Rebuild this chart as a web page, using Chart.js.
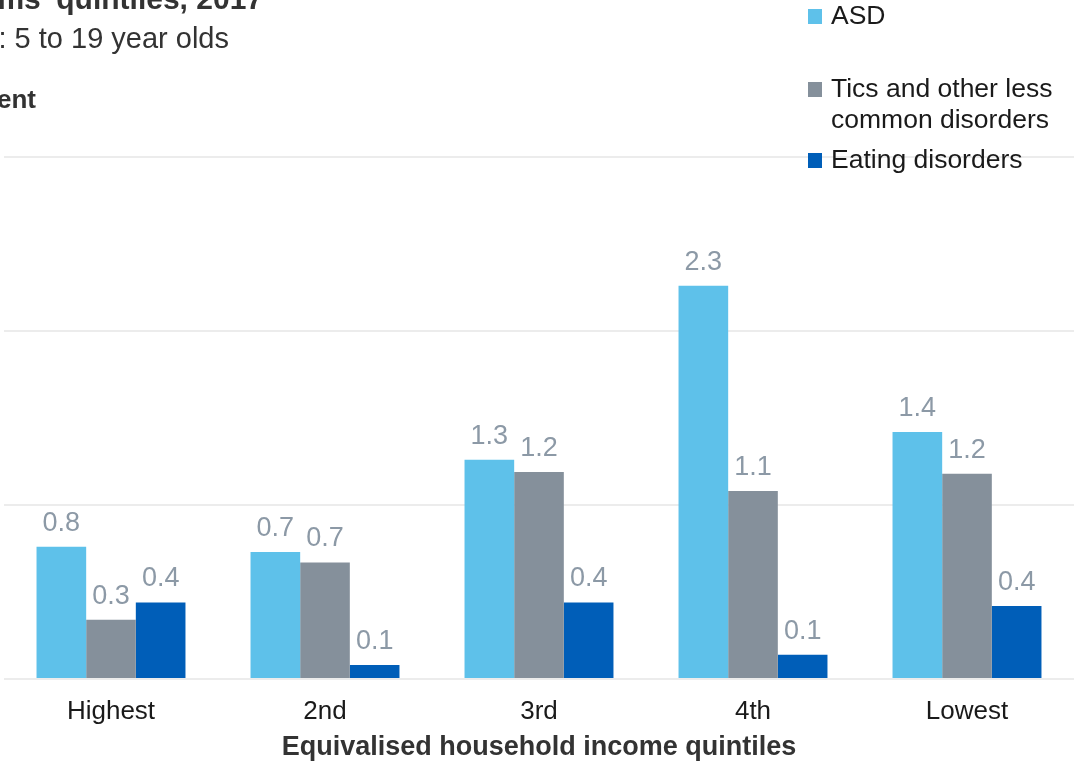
<!DOCTYPE html>
<html>
<head>
<meta charset="utf-8">
<script src="https://cdn.jsdelivr.net/npm/chart.js@4"></script>
<style>
  html, body { margin: 0; padding: 0; background: #ffffff; }
  #wrap { width: 1074px; height: 764px; position: relative; }
</style>
</head>
<body>
<div id="wrap"><canvas id="chart"></canvas></div>
<script>
const quintiles = ['Highest', '2nd', '3rd', '4th', 'Lowest'];
const asd = [0.76, 0.73, 1.26, 2.26, 1.42];
const tics = [0.34, 0.67, 1.19, 1.08, 1.18];
const eating = [0.44, 0.08, 0.44, 0.14, 0.42];
const yTicks = [0, 1, 2, 3];

const FONT = '"Liberation Sans", Arial, sans-serif';

// labels above each bar
const barLabels = {
  id: 'barLabels',
  afterDatasetsDraw (chart) {
    const ctx = chart.ctx;
    ctx.save();
    ctx.font = '27px ' + FONT;
    ctx.fillStyle = '#8c99a6';
    ctx.textAlign = 'center';
    ctx.textBaseline = 'alphabetic';
    chart.data.datasets.forEach((ds, i) => {
      chart.getDatasetMeta(i).data.forEach((bar, j) => {
        ctx.fillText(ds.data[j].toFixed(1), bar.x, bar.y - 16);
      });
    });
    ctx.restore();
  }
};

// cropped headings and the legend in the top right corner
const headings = {
  id: 'headings',
  afterDraw (chart) {
    const ctx = chart.ctx;
    ctx.save();
    ctx.fillStyle = '#333333';
    ctx.textAlign = 'right';
    ctx.textBaseline = 'alphabetic';
    ctx.font = 'bold 30px ' + FONT;
    ctx.fillText("ms' quintiles, 2017", 263, 9);
    ctx.font = '29px ' + FONT;
    ctx.fillText(': 5 to 19 year olds', 229, 48);
    ctx.font = 'bold 26px ' + FONT;
    ctx.fillText('Percent', 36, 108);

    const rows = [
      { lines: ['ASD'], base: 24 },
      { lines: ['Tics and other less', 'common disorders'], base: 97 },
      { lines: ['Eating disorders'], base: 168 }
    ];
    ctx.textAlign = 'left';
    ctx.font = '26.5px ' + FONT;
    rows.forEach((row, i) => {
      ctx.fillStyle = chart.data.datasets[i].backgroundColor;
      ctx.fillRect(808, row.base - 15, 14, 15);
      ctx.fillStyle = '#1a1a1a';
      row.lines.forEach((line, k) => {
        ctx.fillText(line, 831, row.base + k * 31);
      });
    });
    ctx.restore();
  }
};

const ctx = document.getElementById('chart');
new Chart(ctx, {
  type: 'bar',
  data: {
    labels: quintiles,
    datasets: [
      { label: 'ASD', data: asd, backgroundColor: '#5ec1ea' },
      { label: 'Tics and other less common disorders', data: tics, backgroundColor: '#85909b' },
      { label: 'Eating disorders', data: eating, backgroundColor: '#005eb8' }
    ]
  },
  options: {
    responsive: true,
    maintainAspectRatio: false,
    animation: false,
    layout: { padding: { top: 157, left: 0, right: 0, bottom: 0 } },
    datasets: {
      bar: { categoryPercentage: 0.696, barPercentage: 1.0 }
    },
    plugins: {
      legend: { display: false },
      tooltip: { enabled: false }
    },
    scales: {
      x: {
        grid: { display: false, drawTicks: false },
        border: { display: false },
        ticks: {
          color: '#1a1a1a',
          padding: 17,
          font: { family: FONT, size: 26 }
        },
        title: {
          display: true,
          text: 'Equivalised household income quintiles',
          color: '#333333',
          padding: 0,
          font: { family: FONT, size: 27, weight: 'bold' }
        },
        afterFit (scale) { scale.height = 85; }
      },
      y: {
        min: 0,
        max: 3,
        afterBuildTicks (scale) {
          scale.ticks = yTicks.map(v => ({ value: v }));
        },
        grid: { color: '#ececec', lineWidth: 2, drawTicks: false },
        border: { display: false },
        ticks: { display: false },
        afterFit (scale) { scale.width = 4; }
      }
    }
  },
  plugins: [barLabels, headings]
});
</script>
</body>
</html>
